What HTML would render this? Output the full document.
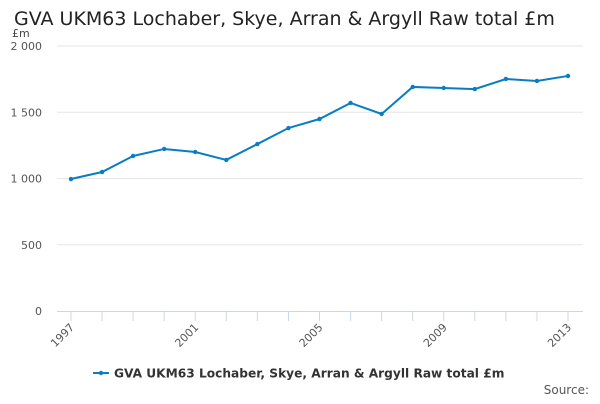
<!DOCTYPE html>
<html><head><meta charset="utf-8"><style>
body{margin:0;background:#fff;font-family:"DejaVu Sans","Liberation Sans",sans-serif;}
</style></head><body>
<svg width="600" height="400" xmlns="http://www.w3.org/2000/svg">
<text x="14" y="25" font-size="19" fill="#222">GVA UKM63 Lochaber, Skye, Arran &amp; Argyll Raw total £m</text>
<text x="12" y="37" font-size="11" fill="#444">£m</text>
<g id="grid"></g><g id="xaxis"></g><g id="series"></g>
<g>
<line x1="93" y1="373" x2="109" y2="373" stroke="#0a7dc2" stroke-width="2"/>
<circle cx="101" cy="373" r="2.2" fill="#0a7dc2"/>
<text x="114" y="377.5" font-size="12.2" font-weight="bold" fill="#333">GVA UKM63 Lochaber, Skye, Arran &amp; Argyll Raw total £m</text>
</g>
<text x="589" y="394" font-size="12" fill="#555" text-anchor="end">Source:</text>
</svg>
<script>
const years=[1997,1998,1999,2000,2001,2002,2003,2004,2005,2006,2007,2008,2009,2010,2011,2012,2013];
const values=[996,1049,1170,1223,1200,1140,1260,1381,1449,1570,1487,1691,1683,1675,1751,1736,1774];
const yTicks=[0,500,1000,1500,2000];
const yTickLabels=["0","500","1 000","1 500","2 000"];
const xLabelYears=[1997,2001,2005,2009,2013];
const NS="http://www.w3.org/2000/svg";
const x=y=>71+(y-1997)*(568-71)/16;
const yv=v=>311-v*(311-46)/2000;
function mk(t,a,p){const e=document.createElementNS(NS,t);for(const k in a)e.setAttribute(k,a[k]);p.appendChild(e);return e;}
const grid=document.getElementById('grid');
yTicks.forEach((t,i)=>{
 if(t>0){const l=mk('line',{x1:57,x2:583,y1:yv(t),y2:yv(t),stroke:'#e6e6e6','stroke-width':1},grid);
 
 }
 const tx=mk('text',{x:42,y:yv(t)+4,'font-size':11,fill:'#555','text-anchor':'end'},grid);tx.textContent=yTickLabels[i];
 
 
});
const xa=document.getElementById('xaxis');
const ax=mk('line',{x1:57,x2:583,y1:311.5,y2:311.5,stroke:'#ccd6eb','stroke-width':1},xa);


years.forEach(y=>{mk('line',{x1:x(y),x2:x(y),y1:311,y2:321,stroke:'#ccd6eb'},xa);});
xLabelYears.forEach(y=>{
 const t=mk('text',{x:x(y)+4,y:328,'font-size':11,fill:'#555','text-anchor':'end',transform:`rotate(-45 ${x(y)+4} 328)`},xa);t.textContent=y;
 
 
});
const s=document.getElementById('series');
const p=mk('polyline',{points:years.map((y,i)=>x(y)+','+yv(values[i])).join(' '),fill:'none',stroke:'#0a7dc2','stroke-width':2},s);


years.forEach((y,i)=>{const c=mk('circle',{cx:x(y),cy:yv(values[i]),r:2.2,fill:'#0a7dc2'},s);
 
 });
</script>
</body></html>
